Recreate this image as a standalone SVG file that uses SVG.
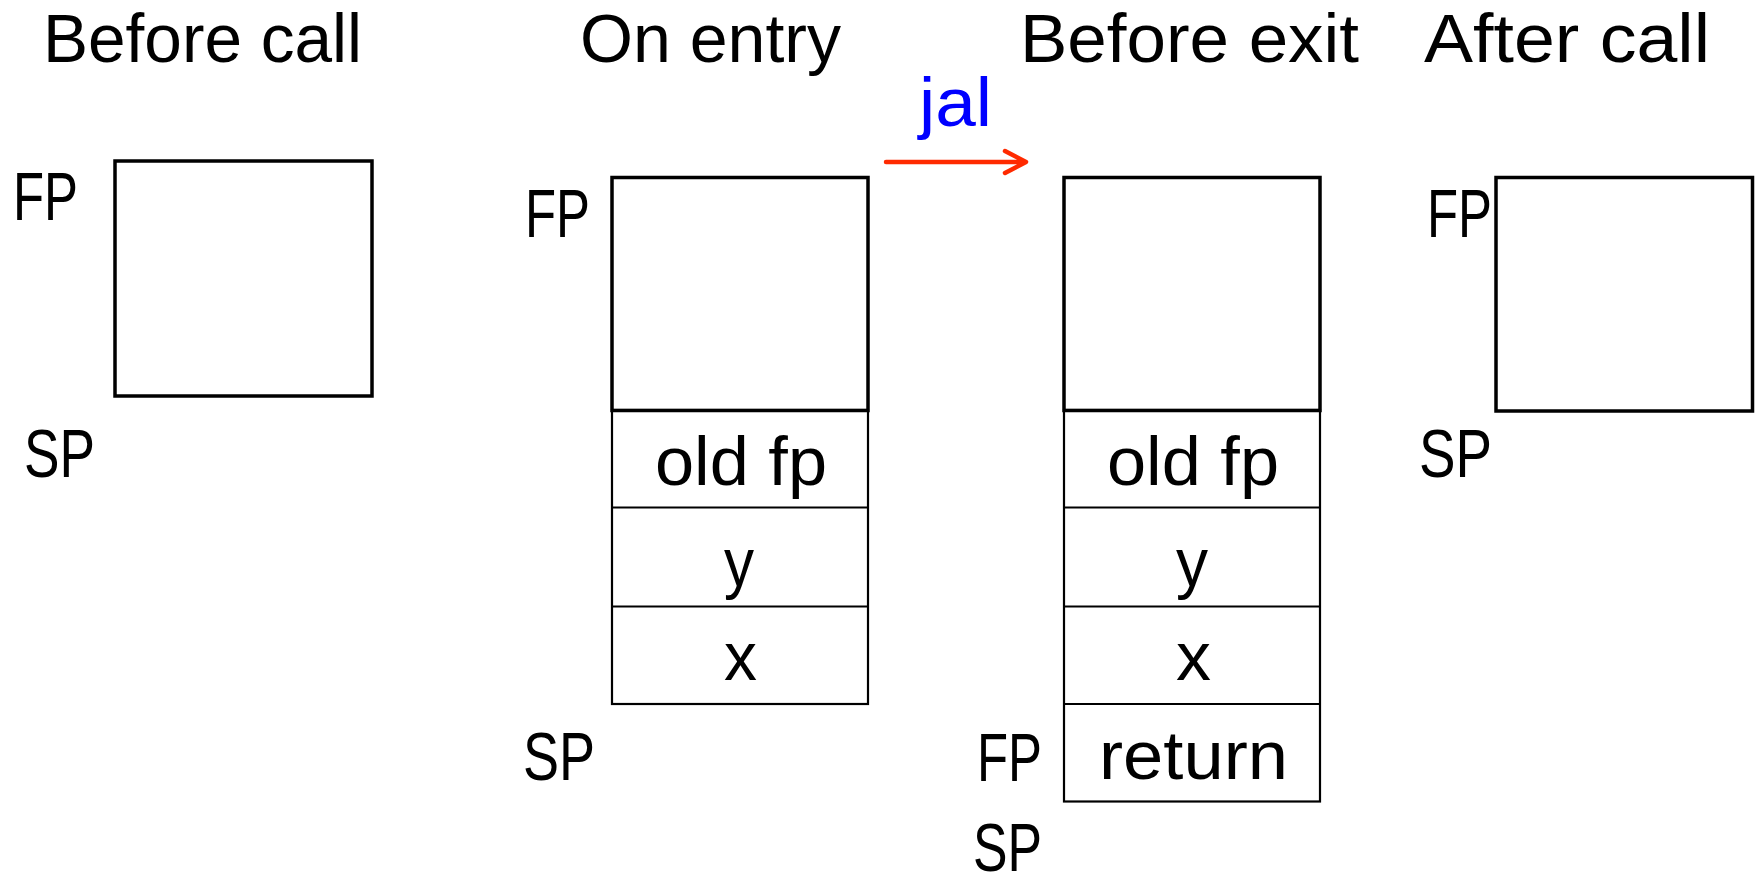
<svg xmlns="http://www.w3.org/2000/svg" width="1759" height="879" viewBox="0 0 1759 879">
<style>
text{font-family:"Liberation Sans",Arial,sans-serif;font-size:68px;fill:#000}
.big{fill:none;stroke:#000;stroke-width:3.5}
.cell{fill:none;stroke:#000;stroke-width:2.2}
.jal{fill:#0000ff}
.arrow{fill:none;stroke:#ff2a00;stroke-width:4.5;stroke-linecap:round;stroke-linejoin:round}
</style>
<rect width="1759" height="879" fill="#fff"/>
<g id="titles">
<text x="43" y="62" textLength="319" lengthAdjust="spacingAndGlyphs">Before call</text>
<text x="580" y="62" textLength="261" lengthAdjust="spacingAndGlyphs">On entry</text>
<text x="1020" y="62" textLength="339" lengthAdjust="spacingAndGlyphs">Before exit</text>
<text x="1424" y="62" textLength="286" lengthAdjust="spacingAndGlyphs">After call</text>
</g>
<g id="connectors">
<g id="jal-arrow">
<path class="arrow" d="M886 162 L1025 162 M1005 151 L1026 162 L1005 173"/>
<text class="jal" x="919" y="126" textLength="73" lengthAdjust="spacingAndGlyphs">jal</text>
</g>
</g>
<g id="before-call">
<rect class="big" x="115" y="161" width="257" height="235"/>
<text x="13" y="220" textLength="65" lengthAdjust="spacingAndGlyphs">FP</text>
<text x="24" y="477" textLength="71" lengthAdjust="spacingAndGlyphs">SP</text>
</g>
<g id="on-entry">
<rect class="cell" x="612" y="410" width="256" height="294"/>
<line class="cell" x1="612" y1="507.5" x2="868" y2="507.5"/>
<line class="cell" x1="612" y1="606.5" x2="868" y2="606.5"/>
<rect class="big" x="612" y="177.5" width="256" height="233"/>
<text x="655" y="485" textLength="172" lengthAdjust="spacingAndGlyphs">old fp</text>
<text x="724" y="586" textLength="30" lengthAdjust="spacingAndGlyphs">y</text>
<text x="724" y="680" textLength="33" lengthAdjust="spacingAndGlyphs">x</text>
<text x="525" y="237" textLength="65" lengthAdjust="spacingAndGlyphs">FP</text>
<text x="523" y="780" textLength="72" lengthAdjust="spacingAndGlyphs">SP</text>
</g>
<g id="before-exit">
<rect class="cell" x="1064" y="410" width="256" height="391.5"/>
<line class="cell" x1="1064" y1="507.5" x2="1320" y2="507.5"/>
<line class="cell" x1="1064" y1="606.5" x2="1320" y2="606.5"/>
<line class="cell" x1="1064" y1="704" x2="1320" y2="704"/>
<rect class="big" x="1064" y="177.5" width="256" height="233"/>
<text x="1107" y="485" textLength="172" lengthAdjust="spacingAndGlyphs">old fp</text>
<text x="1176" y="586" textLength="32" lengthAdjust="spacingAndGlyphs">y</text>
<text x="1176" y="680" textLength="35" lengthAdjust="spacingAndGlyphs">x</text>
<text x="1099" y="779" textLength="189" lengthAdjust="spacingAndGlyphs">return</text>
<text x="977" y="781" textLength="65" lengthAdjust="spacingAndGlyphs">FP</text>
<text x="973" y="871" textLength="69" lengthAdjust="spacingAndGlyphs">SP</text>
</g>
<g id="after-call">
<rect class="big" x="1496" y="177.5" width="256.5" height="233.5"/>
<text x="1427" y="237" textLength="65" lengthAdjust="spacingAndGlyphs">FP</text>
<text x="1419" y="477" textLength="73" lengthAdjust="spacingAndGlyphs">SP</text>
</g>
</svg>
